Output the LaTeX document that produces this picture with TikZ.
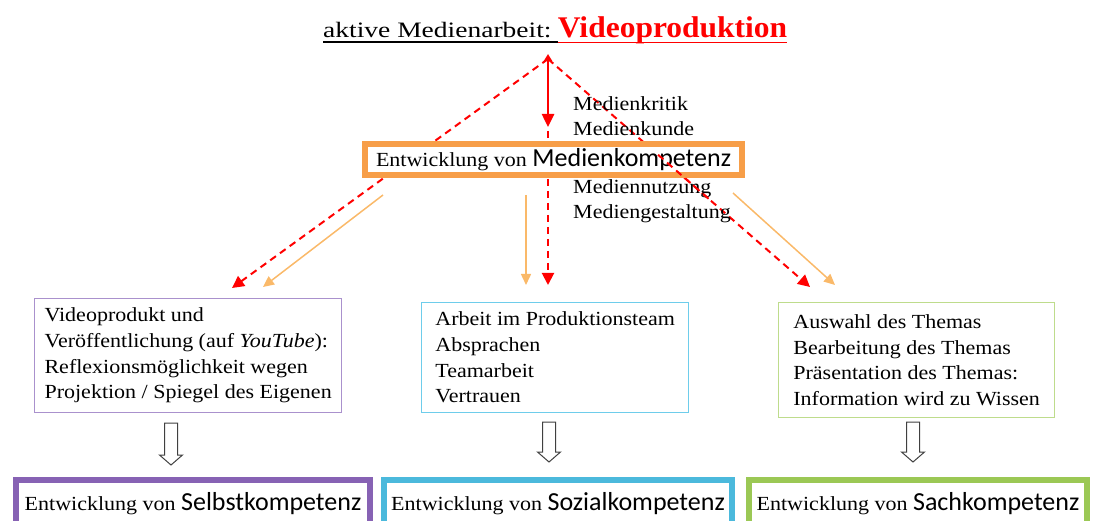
\documentclass[tikz,border=0pt]{standalone}
\usepackage{fontspec}
\setmainfont[FakeStretch=1.1]{Liberation Serif}
\newfontfamily\titlefont[FakeStretch=1.25]{Liberation Serif}
\newfontfamily\boldtitlefont[FakeStretch=1.05,UprightFont=* Bold]{Liberation Serif}
\newfontfamily\kompsans{Carlito}
\usetikzlibrary{arrows.meta,calc}
\definecolor{vred}{RGB}{255,0,0}
\definecolor{korange}{RGB}{247,158,72}
\definecolor{aorange}{RGB}{250,185,105}
\definecolor{purpthin}{RGB}{170,145,205}
\definecolor{purpthick}{RGB}{135,98,180}
\definecolor{cyanthin}{RGB}{110,205,235}
\definecolor{cyanthick}{RGB}{75,185,220}
\definecolor{greenthin}{RGB}{190,220,140}
\definecolor{greenthick}{RGB}{155,200,85}
\newcommand{\kompfont}{\fontsize{26}{30}\selectfont\kompsans}
\begin{document}
\begin{tikzpicture}[x=1pt,y=-1pt,
  every node/.style={inner sep=0pt, font=\fontsize{20}{25.7}\selectfont},
  dashline/.style={vred, line width=2pt, dash pattern=on 7pt off 5pt, -{Triangle[length=12pt,width=12pt]}},
  oarrow/.style={aorange, line width=1.5pt, -{Triangle[length=11pt,width=10pt]}},
  thinbox/.style={draw=#1, line width=1.3pt, align=left, fill=white},
  bigbox/.style={draw=#1, line width=6pt, fill=white, text height=22pt, text depth=30pt, inner ysep=8pt},
  hollow/.style={draw=black!75, line width=1pt, fill=white, line join=miter},
  label/.style={anchor=base west}
]
\useasboundingbox (0,0) rectangle (1095,521);

% title
\node[anchor=base west, font=\fontsize{22}{26}\titlefont] (t1) at (323,38) {aktive Medienarbeit:};
\node[anchor=base west, text=vred, font=\fontsize{30}{32}\boldtitlefont] (t2) at ([xshift=6pt]t1.base east) {Videoproduktion};
\draw[line width=1.5pt] ([yshift=-4pt]t1.base west) -- ([yshift=-4pt,xshift=6pt]t1.base east);
\draw[vred, line width=1.5pt] ([yshift=-4.5pt,xshift=6pt]t1.base east) -- ([yshift=-4.5pt]t2.base east);

% coordinates
\coordinate (apex) at (548,54);
\coordinate (dstart) at (548,59);
\coordinate (kbot) at (548,127);
\coordinate (vstart) at (548,131);
\coordinate (tipL) at (232,288);
\coordinate (tipM) at (548,285);
\coordinate (tipR) at (810,287);
\coordinate (oL0) at (383,195);
\coordinate (oL1) at (263,287);
\coordinate (oM0) at (526,195);
\coordinate (oM1) at (526,285);
\coordinate (oR0) at (733,193);
\coordinate (oR1) at (835,285);

% red connectors
\draw[dashline] (dstart) -- (tipL);
\draw[dashline] (dstart) -- (tipR);
\draw[dashline] (vstart) -- (tipM);
\draw[vred, line width=2.5pt, {Triangle[length=7pt,width=8pt]}-{Triangle[length=13pt,width=12pt]}] (apex) -- (kbot);

% Medienkompetenz box
\node[draw=korange, line width=5.5pt, fill=white, minimum width=377pt, minimum height=31pt] (mk) at (553.5,159.5) {Entwicklung von {\kompfont Medienkompetenz}};

% side labels
\node[label] (l1) at (573,111) {Medienkritik};
\node[label] (l2) at (573,136) {Medienkunde};
\node[label] (l3) at (573,194) {Mediennutzung};
\node[label] (l4) at (573,219) {Mediengestaltung};
\draw[dashline, -] ($(dstart)!0.42!(tipR)$) -- ($(dstart)!0.62!(tipR)$);

% orange arrows
\draw[oarrow] (oL0) -- (oL1);
\draw[oarrow] (oM0) -- (oM1);
\draw[oarrow] (oR0) -- (oR1);

% middle boxes
\node[thinbox=purpthin, minimum width=307pt, minimum height=114pt, anchor=north west] (b1) at (34,298)
  {Videoprodukt und\\Veröffentlichung (auf \textit{YouTube}):\\Reflexionsmöglichkeit wegen\\Projektion / Spiegel des Eigenen};
\node[thinbox=cyanthin, minimum width=267pt, minimum height=110pt, anchor=north west] (b2) at (421,302)
  {Arbeit im Produktionsteam\\Absprachen\\Teamarbeit\\Vertrauen};
\node[thinbox=greenthin, minimum width=276pt, minimum height=115pt, anchor=north west] (b3) at (778,302)
  {Auswahl des Themas\\Bearbeitung des Themas\\Präsentation des Themas:\\Information wird zu Wissen};

% bottom boxes
\node[bigbox=purpthick, minimum width=354pt, anchor=base] (s1) at (193,510) {Entwicklung von {\kompfont Selbstkompetenz}};
\node[bigbox=cyanthick, minimum width=348pt, anchor=base] (s2) at (558,510) {Entwicklung von {\kompfont Sozialkompetenz}};
\node[bigbox=greenthick, minimum width=338pt, anchor=base] (s3) at (918,510) {Entwicklung von {\kompfont Sachkompetenz}};

% hollow arrows
\foreach \x/\t/\h/\e in {171/423/455/465, 549/422/452/462, 913/422/452/462}{
  \draw[hollow] (\x-6.5,\t) -- (\x+6.5,\t) -- (\x+6.5,\h) -- (\x+11.5,\h) -- (\x,\e) -- (\x-11.5,\h) -- (\x-6.5,\h) -- cycle;
}
\end{tikzpicture}
\end{document}
